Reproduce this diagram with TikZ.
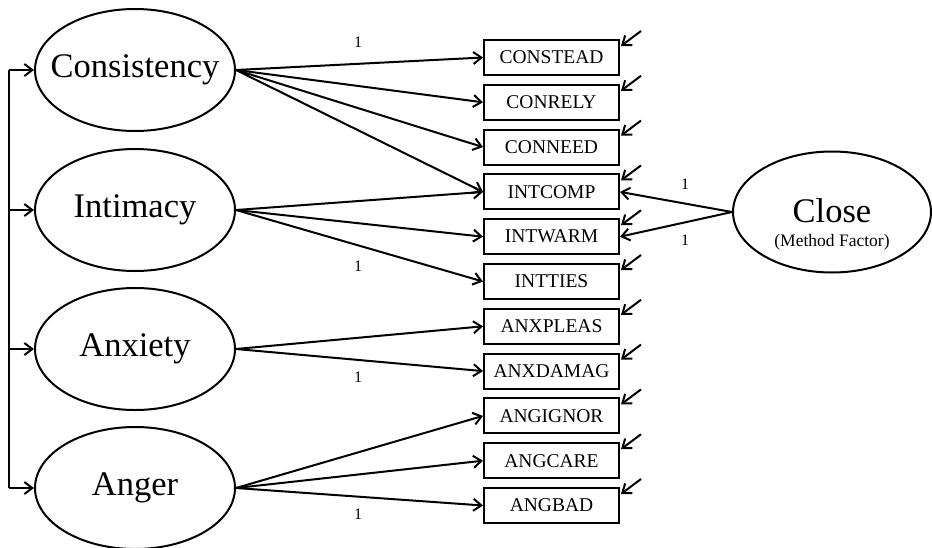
\documentclass[tikz,border=0pt]{standalone}
\usepackage{fontspec}
\setmainfont{Liberation Serif}
\usetikzlibrary{shapes.geometric,arrows.meta,calc}
\begin{document}
\begin{tikzpicture}[x=1pt,y=-1pt,
  latent/.style={draw,ellipse,line width=2pt,minimum width=200pt,minimum height=122pt,inner sep=0pt},
  obs/.style={draw,rectangle,line width=2pt,minimum width=135pt,minimum height=35pt,inner sep=0pt,font=\fontsize{19.5}{20}\selectfont},
  arr/.style={line width=2pt,-{Straight Barb[length=8pt,width=12pt]}},
  lab/.style={font=\fontsize{16}{17}\selectfont,inner sep=0pt},
  big/.style={font=\fontsize{34.5}{36}\selectfont,inner sep=0pt},
  small/.style={font=\fontsize{17.5}{18}\selectfont,inner sep=0pt}
]
\useasboundingbox (0,0) rectangle (932,547);

% latent factors
\node[latent] (cons) at (135,70) {};
\node[big] (const) at (cons) {Consistency};
\node[latent] (inti) at (135,210) {};
\node[big] (intit) at (inti) {Intimacy};
\node[latent] (anxi) at (135,349) {};
\node[big] (anxit) at (anxi) {Anxiety};
\node[latent] (ange) at (135,488) {};
\node[big] (anget) at (ange) {Anger};
\node[latent,minimum width=198pt,minimum height=121pt] (close) at (832,212) {};
\node[big] (closet) at (832,211) {Close};
\node[small] (closem) at (832,242) {(Method Factor)};

% observed indicators
\foreach \n/\t [count=\i from 0] in {b1/CONSTEAD,b2/CONRELY,b3/CONNEED,b4/INTCOMP,b5/INTWARM,b6/INTTIES,b7/ANXPLEAS,b8/ANXDAMAG,b9/ANGIGNOR,b10/ANGCARE,b11/ANGBAD}{
  \node[obs] (\n) at (551.5,57.5+44.8*\i) {\t};
  \coordinate (\n es) at ($(\n.north east)+(21,-8)$);
  \coordinate (\n et) at ($(\n.north east)+(1,7)$);
  \draw[arr] (\n es) -- (\n et);
}

% covariance spine
\coordinate (spine) at (9,70);
\coordinate (spinebot) at (9,488);
\draw[line width=2pt] (spine) -- (spinebot);
\foreach \f in {cons,inti,anxi,ange}{
  \draw[arr] (\f.west -| spine) -- (\f.west);
}

% loadings
\foreach \b in {b1,b2,b3,b4}{\draw[arr] (cons.east) -- (\b.west);}
\foreach \b in {b4,b5,b6}{\draw[arr] (inti.east) -- (\b.west);}
\foreach \b in {b7,b8}{\draw[arr] (anxi.east) -- (\b.west);}
\foreach \b in {b9,b10,b11}{\draw[arr] (ange.east) -- (\b.west);}
\draw[arr] (close.west) -- (b4.east);
\draw[arr] (close.west) -- (b5.east);

% fixed loadings
\node[lab] (l1) at (358,42) {1};
\node[lab] (l2) at (358,266) {1};
\node[lab] (l3) at (358,377) {1};
\node[lab] (l4) at (358,514) {1};
\node[lab] (l5) at (685,184) {1};
\node[lab] (l6) at (685,240) {1};
\end{tikzpicture}
\end{document}
